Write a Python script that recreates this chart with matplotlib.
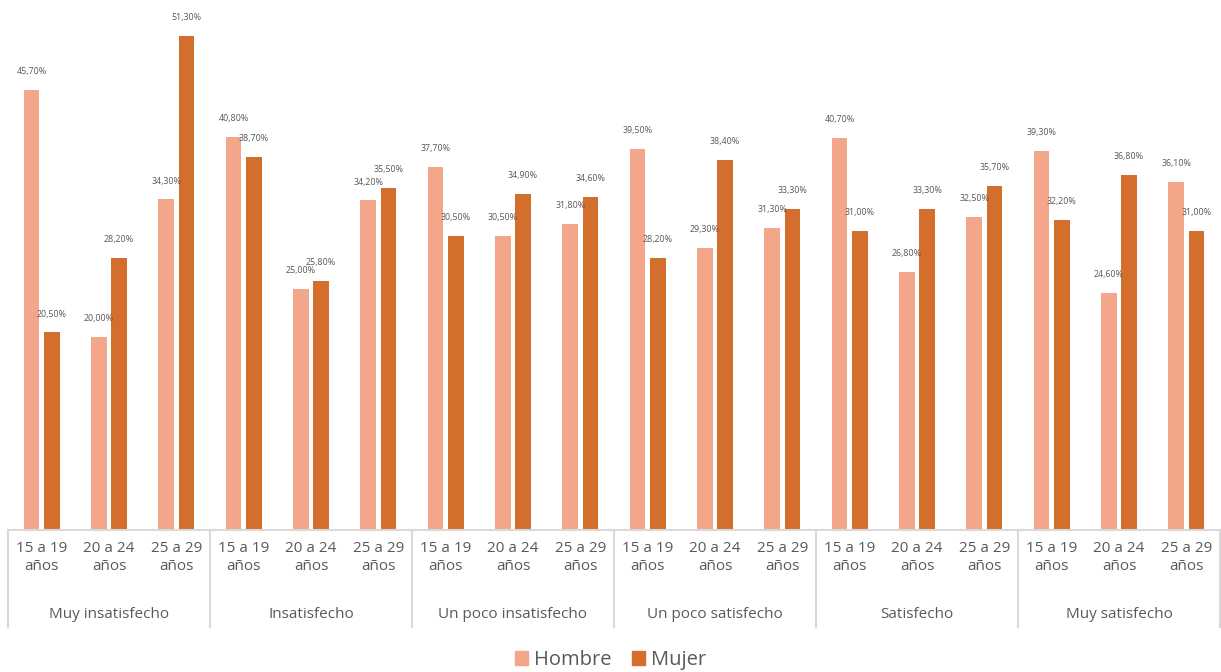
import matplotlib.pyplot as plt
import matplotlib.transforms as mtransforms
from matplotlib.patches import Patch
import numpy as np

categorias = ['Muy insatisfecho', 'Insatisfecho', 'Un poco insatisfecho',
              'Un poco satisfecho', 'Satisfecho', 'Muy satisfecho']
edades = ['15 a 19\naños', '20 a 24\naños', '25 a 29\naños']

hombre = [45.7, 20.0, 34.3,
          40.8, 25.0, 34.2,
          37.7, 30.5, 31.8,
          39.5, 29.3, 31.3,
          40.7, 26.8, 32.5,
          39.3, 24.6, 36.1]
mujer = [20.5, 28.2, 51.3,
         38.7, 25.8, 35.5,
         30.5, 34.9, 34.6,
         28.2, 38.4, 33.3,
         31.0, 33.3, 35.7,
         32.2, 36.8, 31.0]

c_h = '#F3A68A'
c_m = '#D46E2C'
gris = '#595959'
linea = '#D9D9D9'

plt.rcParams['font.family'] = ['Open Sans', 'DejaVu Sans']

fig = plt.figure(figsize=(12.21, 6.72), dpi=100)
ax = fig.add_axes([8 / 1221, 1 - 530 / 672, 1 - 9 / 1221, 530 / 672])

x = np.arange(len(hombre))
w = 0.235
off = 0.15
bh = ax.bar(x - off, hombre, w, color=c_h)
bm = ax.bar(x + off, mujer, w, color=c_m)

def fmt(v):
    return ('%.2f%%' % v).replace('.', ',')

for xs, vals in [(x - off, hombre), (x + off, mujer)]:
    for xi, v in zip(xs, vals):
        ax.annotate(fmt(v), (xi, v), xytext=(0, 10), textcoords='offset points',
                    ha='center', va='bottom', fontsize=6.4, color=gris)

ax.set_xlim(-0.5, len(hombre) - 0.5)
ax.set_ylim(0, 55)
ax.set_yticks([])
for s in ['top', 'right', 'left']:
    ax.spines[s].set_visible(False)
ax.spines['bottom'].set_color(linea)
ax.spines['bottom'].set_linewidth(1.5)

ax.set_xticks(x)
ax.set_xticklabels(edades * len(categorias), fontsize=11, color=gris, linespacing=1.3)
ax.tick_params(axis='x', length=0, pad=8)

trans = mtransforms.blended_transform_factory(ax.transData, ax.transAxes)
for i in range(len(categorias) + 1):
    xs = i * 3 - 0.5
    ax.plot([xs, xs], [0, -0.183], transform=trans, color=linea, lw=1.5, clip_on=False)
for i, cat in enumerate(categorias):
    ax.text(i * 3 + 1, -0.159, cat, transform=trans, ha='center', va='center',
            fontsize=11, color=gris)

fig.legend(handles=[Patch(color=c_h, label='Hombre'), Patch(color=c_m, label='Mujer')],
           loc='center', bbox_to_anchor=(0.5, 1 - 660 / 672), ncol=2, frameon=False,
           fontsize=14.5, handlelength=0.65, handleheight=0.65, handletextpad=0.3,
           columnspacing=1.0, labelcolor=gris)

fig.savefig('out.png', dpi=100)
